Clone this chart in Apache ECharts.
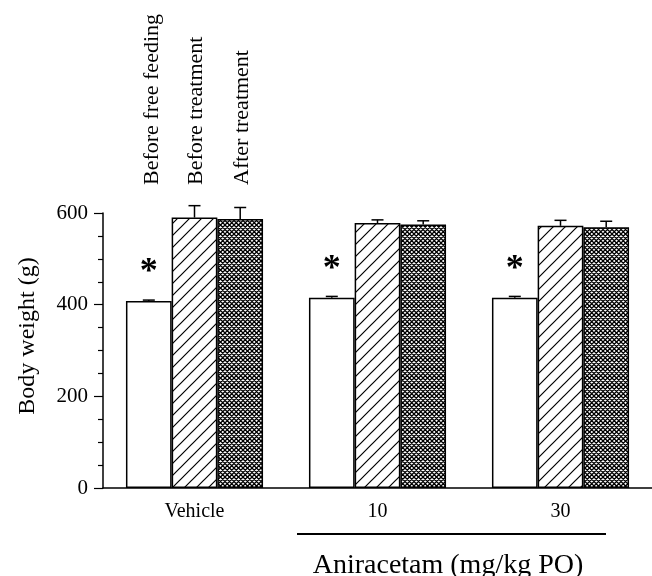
<!DOCTYPE html>
<html>
<head>
<meta charset="utf-8">
<script src="https://cdn.jsdelivr.net/npm/echarts@6/dist/echarts.min.js"></script>
<style>
html,body{margin:0;padding:0;background:#fff;}
#chart{width:652px;height:576px;}
</style>
</head>
<body>
<div id="chart"></div>
<script>
// ---- data ----
const categories = ['Vehicle', '10', '30'];
const seriesNames = ['Before free feeding', 'Before treatment', 'After treatment'];
const beforeFreeFeeding = [408, 415, 415];
const beforeFreeFeedingSE = [2, 3, 3];
const beforeTreatment = [590, 578, 572];
const beforeTreatmentSE = [26, 7, 12];
const afterTreatment = [587, 575, 569];
const afterTreatmentSE = [25, 8, 13];
const yTicks = [0, 200, 400, 600];
const significance = ['*', '*', '*'];

const FONT = "'Liberation Serif', 'Times New Roman', serif";

function hatchPattern() {
  const s = 12;
  const c = document.createElement('canvas');
  c.width = s; c.height = s;
  const g = c.getContext('2d');
  g.fillStyle = '#fff'; g.fillRect(0, 0, s, s);
  g.strokeStyle = '#000'; g.lineWidth = 1.2;
  g.beginPath();
  g.moveTo(-1, s + 1); g.lineTo(s + 1, -1);
  g.moveTo(-2, 2); g.lineTo(2, -2);
  g.moveTo(s - 2, s + 2); g.lineTo(s + 2, s - 2);
  g.stroke();
  return c;
}
function crossPattern() {
  const s = 9, h = 4.5;
  const c = document.createElement('canvas');
  c.width = s; c.height = s;
  const g = c.getContext('2d');
  g.fillStyle = '#fff'; g.fillRect(0, 0, s, s);
  g.strokeStyle = '#000'; g.lineWidth = 1.3;
  g.beginPath();
  for (let k = -2; k <= 4; k++) {
    const o = k * h;
    // "/" lines: x + y = o + s
    g.moveTo(o - 2, s + 2); g.lineTo(o + s + 2, -2);
    // "\" lines: y = x - o
    g.moveTo(o - 2, -2); g.lineTo(o + s + 2, s + 2);
  }
  g.stroke();
  return c;
}

const chart = echarts.init(document.getElementById('chart'), null, {renderer: 'canvas'});
const BW = 45.7;

function errSeries(values, errs, k) {
  return {
    type: 'custom',
    z: 5,
    silent: true,
    data: values.map((v, i) => [i, v, errs[i]]),
    renderItem: function (params, api) {
      const i = api.value(0), v = api.value(1), e = api.value(2);
      const p0 = api.coord([i, v]);
      const p1 = api.coord([i, v + e]);
      const x = p0[0] + (k - 1) * BW;
      const hw = 6;
      return {
        type: 'group',
        children: [
          {type: 'line', shape: {x1: x, y1: p0[1], x2: x, y2: p1[1]}, style: {stroke: '#000', lineWidth: 1.5}},
          {type: 'line', shape: {x1: x - hw, y1: p1[1], x2: x + hw, y2: p1[1]}, style: {stroke: '#000', lineWidth: 1.5}}
        ]
      };
    }
  };
}

const barBase = {
  type: 'bar',
  barWidth: BW,
  barGap: '0%',
  z: 3
};

const option = {
  animation: false,
  backgroundColor: '#fff',
  grid: {left: 103, right: 0, top: 213, bottom: 88, containLabel: false},
  xAxis: {
    type: 'category',
    data: categories,
    axisLine: {lineStyle: {color: '#000', width: 1.5}},
    axisTick: {show: false},
    axisLabel: {color: '#000', fontFamily: FONT, fontSize: 20, margin: 14}
  },
  yAxis: {
    type: 'value',
    min: 0, max: 600, interval: 200,
    axisLine: {show: true, lineStyle: {color: '#000', width: 1.5}},
    axisTick: {show: true, length: 9, lineStyle: {color: '#000', width: 1.2}},
    minorTick: {show: true, splitNumber: 4, length: 5, lineStyle: {color: '#000', width: 1.2}},
    splitLine: {show: false},
    axisLabel: {
      color: '#000', fontFamily: FONT, fontSize: 21, margin: 15,
      formatter: v => (yTicks.indexOf(v) >= 0 ? String(v) : '')
    }
  },
  series: [
    Object.assign({}, barBase, {
      name: seriesNames[0],
      data: beforeFreeFeeding,
      itemStyle: {color: '#fff', borderColor: '#000', borderWidth: 1.5},
      label: {
        show: true, position: 'top', distance: 10,
        formatter: p => significance[p.dataIndex],
        fontFamily: FONT, fontSize: 36, fontWeight: 'bold', color: '#000'
      }
    }),
    Object.assign({}, barBase, {
      name: seriesNames[1],
      data: beforeTreatment,
      itemStyle: {color: {image: hatchPattern(), repeat: 'repeat'}, borderColor: '#000', borderWidth: 1.5}
    }),
    Object.assign({}, barBase, {
      name: seriesNames[2],
      data: afterTreatment,
      itemStyle: {color: {image: crossPattern(), repeat: 'repeat'}, borderColor: '#000', borderWidth: 1.5}
    }),
    errSeries(beforeFreeFeeding, beforeFreeFeedingSE, 0),
    errSeries(beforeTreatment, beforeTreatmentSE, 1),
    errSeries(afterTreatment, afterTreatmentSE, 2)
  ],
  graphic: [
    {type: 'text', x: 152, y: 185, rotation: Math.PI / 2,
     style: {text: seriesNames[0], font: '22px ' + FONT, fill: '#000', textAlign: 'left', textVerticalAlign: 'middle'}},
    {type: 'text', x: 196, y: 185, rotation: Math.PI / 2,
     style: {text: seriesNames[1], font: '22px ' + FONT, fill: '#000', textAlign: 'left', textVerticalAlign: 'middle'}},
    {type: 'text', x: 242, y: 185, rotation: Math.PI / 2,
     style: {text: seriesNames[2], font: '22px ' + FONT, fill: '#000', textAlign: 'left', textVerticalAlign: 'middle'}},
    {type: 'text', x: 28, y: 336, rotation: Math.PI / 2,
     style: {text: 'Body weight (g)', font: '24px ' + FONT, fill: '#000', textAlign: 'center', textVerticalAlign: 'middle'}},
    {type: 'line', shape: {x1: 297, y1: 534, x2: 606, y2: 534}, style: {stroke: '#000', lineWidth: 2}},
    {type: 'text', x: 448, y: 566,
     style: {text: 'Aniracetam (mg/kg PO)', font: '28px ' + FONT, fill: '#000', textAlign: 'center', textVerticalAlign: 'middle'}}
  ]
};
chart.setOption(option);
</script>
</body>
</html>
